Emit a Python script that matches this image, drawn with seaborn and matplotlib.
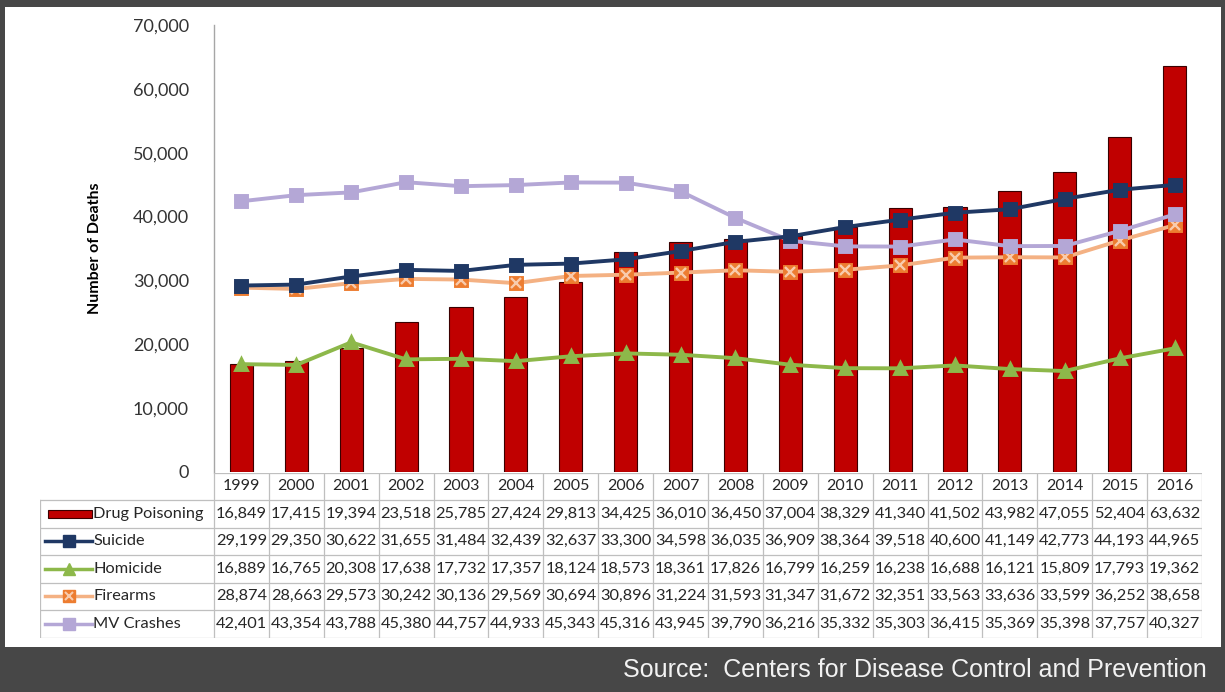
import matplotlib.pyplot as plt
import matplotlib.patches as mpatches
import numpy as np
import seaborn as sns

years = [str(y) for y in range(1999, 2017)]
drug_poisoning = [16849, 17415, 19394, 23518, 25785, 27424, 29813, 34425, 36010,
                  36450, 37004, 38329, 41340, 41502, 43982, 47055, 52404, 63632]
suicide = [29199, 29350, 30622, 31655, 31484, 32439, 32637, 33300, 34598,
           36035, 36909, 38364, 39518, 40600, 41149, 42773, 44193, 44965]
homicide = [16889, 16765, 20308, 17638, 17732, 17357, 18124, 18573, 18361,
            17826, 16799, 16259, 16238, 16688, 16121, 15809, 17793, 19362]
firearms = [28874, 28663, 29573, 30242, 30136, 29569, 30694, 30896, 31224,
            31593, 31347, 31672, 32351, 33563, 33636, 33599, 36252, 38658]
mv_crashes = [42401, 43354, 43788, 45380, 44757, 44933, 45343, 45316, 43945,
              39790, 36216, 35332, 35303, 36415, 35369, 35398, 37757, 40327]

row_names = ["Drug Poisoning", "Suicide", "Homicide", "Firearms", "MV Crashes"]
row_values = [drug_poisoning, suicide, homicide, firearms, mv_crashes]

W, H = 1225, 692
fig = plt.figure(figsize=(W / 100, H / 100), dpi=100)
fig.patch.set_facecolor("#474747")
FONT = "Lato"
TXT = "#262626"

# white panel inside the dark frame (drawn behind the axes)
panel = fig.add_axes([5 / W, 1 - 647 / H, 1216 / W, 640 / H], zorder=-5)
panel.axis("off")
panel.add_patch(mpatches.Rectangle((0, 0), 1, 1, transform=panel.transAxes,
                                   facecolor="white", edgecolor="none"))

def fx(px):
    return px / W

def fy(py):
    return 1 - py / H

# main plot
x0, x1, ytop, ybot = 214, 1202, 25, 472
ax = fig.add_axes([fx(x0), fy(ybot), fx(x1) - fx(x0), fy(ytop) - fy(ybot)])
ax.set_facecolor("none")

sns.barplot(x=years, y=drug_poisoning, color="#C00000", width=0.42,
            edgecolor="#3a0000", linewidth=0.8, saturation=1, ax=ax, zorder=2)

line_specs = [
    (firearms, "#F4B183", "s"),
    (mv_crashes, "#B4A7D6", "s"),
    (homicide, "#8DB84A", "^"),
    (suicide, "#1F3864", "s"),
]
z = 4
for vals, col, mk in line_specs:
    n0 = len(ax.lines)
    sns.pointplot(x=years, y=vals, color=col, marker=mk, markersize=9,
                  linewidth=2.8, errorbar=None, ax=ax)
    for ln in ax.lines[n0:]:
        ln.set_zorder(z)
        if vals is firearms:
            ln.set_markerfacecolor("#ED7D31")
            ln.set_markeredgecolor("#ED7D31")
    if vals is firearms:
        # light cross on the firearms markers
        sns.pointplot(x=years, y=firearms, color="#F8CBAD", marker="x", markersize=7.5,
                      linestyle="none", errorbar=None, ax=ax)
        ax.lines[-1].set_zorder(z + 0.5)
        ax.lines[-1].set_markeredgewidth(1.7)
    z += 1

ax.set_xlim(-0.5, 17.5)
ax.set_ylim(0, 70000)
ax.set_yticks(np.arange(0, 70001, 10000))
ax.set_yticklabels([f"{v:,}" for v in range(0, 70001, 10000)],
                   fontsize=13, color="#333333", family=FONT)
ax.tick_params(axis="y", length=0, pad=18)
ax.set_xticks([])
ax.set_xlabel("")
for s in ["top", "right", "bottom"]:
    ax.spines[s].set_visible(False)
ax.spines["left"].set_color("#A6A6A6")
ax.spines["left"].set_linewidth(1)
fig.text(fx(95), fy(248), "Number of Deaths", rotation=90, ha="center", va="center",
         fontsize=11.5, fontweight="bold", family=FONT, color="black")

# data table
tab_left, tab_top, tab_bot = 40, 473, 638
tax = fig.add_axes([fx(tab_left), fy(tab_bot), fx(x1) - fx(tab_left), fy(tab_top) - fy(tab_bot)])
tax.set_facecolor("none")
label_w = (x0 - tab_left) / ((x1 - x0) / 18)
tax.set_xlim(-0.5 - label_w, 17.5)
row_edges = [0, 27, 54.5, 82, 109.5, 137, 165]
tax.set_ylim(165, 0)
tax.axis("off")
grid = "#BFBFBF"
lw = 0.9
tax.plot([-0.5, 17.5], [0, 0], color=grid, lw=lw)
for yb in row_edges[1:]:
    tax.plot([-0.5 - label_w, 17.5], [yb, yb], color=grid, lw=lw)
for i in range(19):
    tax.plot([i - 0.5, i - 0.5], [0, 165], color=grid, lw=lw)
tax.plot([-0.5 - label_w] * 2, [27, 165], color=grid, lw=lw)

for i, yr in enumerate(years):
    tax.text(i, 13.5, yr, ha="center", va="center", fontsize=11.5, family=FONT, color=TXT)

key_x0 = -0.5 - label_w + 0.1
key_x1 = key_x0 + 0.85
key_mid = (key_x0 + key_x1) / 2
for r, (name, vals) in enumerate(zip(row_names, row_values)):
    yc = (row_edges[r + 1] + row_edges[r + 2]) / 2
    for i, v in enumerate(vals):
        tax.text(i, yc, f"{v:,}", ha="center", va="center", fontsize=11.8,
                 family=FONT, color=TXT)
    tax.text(key_x1 + 0.02, yc, name, ha="left", va="center", fontsize=11.8,
             family=FONT, color=TXT)

# legend keys
yc = (row_edges[1] + row_edges[2]) / 2
tax.add_patch(mpatches.Rectangle((key_x0 + 0.05, yc - 4), 0.8, 8, facecolor="#C00000",
                                 edgecolor="#3a0000", lw=0.8))
for r, (col, mk, mfc) in zip([1, 2, 3, 4], [("#1F3864", "s", "#1F3864"),
                                             ("#8DB84A", "^", "#8DB84A"),
                                             ("#F4B183", "s", "#ED7D31"),
                                             ("#B4A7D6", "s", "#B4A7D6")]):
    yc = (row_edges[r + 1] + row_edges[r + 2]) / 2
    tax.plot([key_x0, key_x1], [yc, yc], color=col, lw=2.5)
    tax.plot([key_mid], [yc], marker=mk, color=mfc, markersize=8, linestyle="none")
    if r == 3:
        tax.plot([key_mid], [yc], marker="x", color="#F8CBAD", markersize=6,
                 markeredgewidth=1.5, linestyle="none")

fig.text(fx(1207), fy(670), "Source:  Centers for Disease Control and Prevention",
         ha="right", va="center", fontsize=18, family="Liberation Sans", color="#F2F2F2")

fig.savefig("out.png", dpi=100, facecolor=fig.get_facecolor())
